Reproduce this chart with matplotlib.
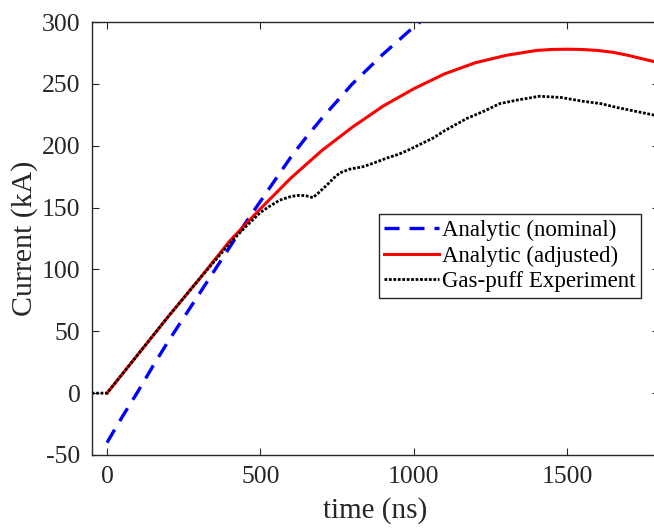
import numpy as np
import matplotlib
matplotlib.use("Agg")
from matplotlib import pyplot as plt

plt.rcParams['font.family'] = ['Liberation Serif', 'DejaVu Serif']
plt.rcParams['axes.unicode_minus'] = False

# analytic (nominal) current, kA
t_nom = [0, 50, 100, 150, 200, 250, 300, 350, 400, 450, 500, 550, 600, 650,
         700, 750, 800, 850, 900, 950, 1000, 1050]
i_nom = [-40, -19, 1, 22, 42, 61, 80, 99, 118, 137, 155, 173, 191, 207,
         222, 236, 250, 262, 274, 285, 296, 306]

# analytic (adjusted) current, kA
t_adj = [0, 100, 200, 300, 400, 500, 600, 700, 800, 900, 1000, 1100,
         1200, 1300, 1350, 1400, 1450, 1500, 1550, 1600, 1650, 1700, 1750, 1800]
i_adj = [0, 31, 62, 92, 123, 149, 174, 196, 215, 232, 246, 258,
         267, 273, 275, 277, 277.8, 278, 277.8, 277, 275.5, 273, 270, 267]

# gas-puff experiment, kA
t_exp = [-50, 0, 100, 200, 300, 400, 450, 500, 530, 563, 600, 629, 650, 671,
         690, 716, 740, 759, 790, 834, 870, 912, 950, 987, 1020, 1062, 1100,
         1173, 1230, 1280, 1340, 1410, 1480, 1550, 1610, 1661, 1720, 1779, 1800]
i_exp = [0, 0, 31, 62, 92, 121, 134, 146, 151, 156, 159, 160, 159.5, 158,
         162, 168, 174, 178, 181, 183, 186, 190, 193, 197, 201, 206, 212,
         222, 228, 234, 237, 240, 239, 236, 234, 231, 228, 225, 224]

fig = plt.figure(figsize=(6.54, 5.29), dpi=100)
ax = fig.add_axes([0.1402, 0.1399, 0.8675, 0.8185])

ax.plot(t_nom, i_nom, color='#0000ff', lw=2.4, ls=(0, (4.5, 3)), label='Analytic (nominal)')
ax.plot(t_adj, i_adj, color='#ff0000', lw=2.2, label='Analytic (adjusted)')
ax.plot(t_exp, i_exp, color='black', lw=2.0, ls=(0, (1, 0.6)), label='Gas-puff Experiment')

ax.set_xlim(-50, 1800)
ax.set_ylim(-50, 300)
ax.set_xticks([0, 500, 1000, 1500])
ax.set_yticks([-50, 0, 50, 100, 150, 200, 250, 300])

for s in ax.spines.values():
    s.set_color('#262626')
    s.set_linewidth(1.0)
ax.tick_params(direction='in', top=True, right=True, length=5, width=0.8,
               labelsize=18.5, colors='#262626', pad=8)

ax.set_xlabel('time (ns)', fontsize=21, color='#262626', va='center')
ax.set_ylabel('Current (kA)', fontsize=21.5, color='#262626', va='center')
ax.xaxis.set_label_coords(0.5, -0.129)
ax.yaxis.set_label_coords(-0.1176, 0.5)

leg = ax.legend(loc='upper left', bbox_to_anchor=(0.506, 0.5566), borderaxespad=0,
                fontsize=16.5, fancybox=False, framealpha=1, edgecolor='#262626',
                handlelength=2.4, handletextpad=0.1, labelspacing=0.2,
                borderpad=0.25)
leg.get_frame().set_linewidth(1.0)

fig.savefig('out.png', dpi=100)
